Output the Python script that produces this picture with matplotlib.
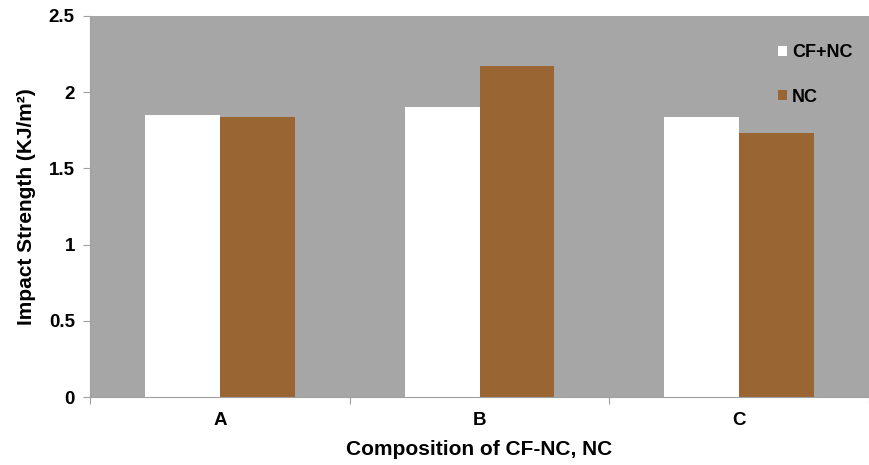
import numpy as np
import matplotlib.pyplot as plt
from matplotlib.patches import Patch

# Impact strength for each composition
compositions = ['A', 'B', 'C']
cf_nc = [1.85, 1.90, 1.84]
nc = [1.84, 2.17, 1.73]

plt.rcParams['font.family'] = ['Liberation Sans', 'DejaVu Sans']
plt.rcParams['font.weight'] = 'bold'

fig = plt.figure(figsize=(8.69, 4.65), dpi=100)
ax = fig.add_axes([0.1036, 0.1462, 0.8964, 0.8194])
ax.set_facecolor('#a6a6a6')

x = np.arange(len(compositions))
w = 0.2885
ax.bar(x - w / 2, cf_nc, w, color='white', label='CF+NC')
ax.bar(x + w / 2, nc, w, color='#996633', label='NC')

ax.set_xlim(-0.5, 2.5)
ax.set_ylim(0, 2.5)
ax.set_yticks([0, 0.5, 1, 1.5, 2, 2.5])
ax.set_yticklabels(['0', '0.5', '1', '1.5', '2', '2.5'], fontsize=13.5, fontweight='bold')

# categories labelled in the middle, ticks between groups
ax.set_xticks([-0.5, 0.5, 1.5, 2.5])
ax.set_xticklabels([])
ax.set_xticks(x, minor=True)
ax.set_xticklabels(compositions, minor=True, fontsize=13.5, fontweight='bold')
ax.tick_params(axis='x', which='minor', length=0, pad=11)
ax.tick_params(axis='x', which='major', length=5, color='#a0a0a0')
ax.tick_params(axis='y', length=5, color='#a0a0a0', pad=6)

for side in ['top', 'right']:
    ax.spines[side].set_visible(False)
for side in ['left', 'bottom']:
    ax.spines[side].set_color('#a0a0a0')

ax.set_xlabel('Composition of CF-NC, NC', fontsize=15, fontweight='bold', labelpad=8)
ax.set_ylabel('Impact Strength (KJ/m²)', fontsize=15, fontweight='bold', labelpad=9)

handles = [Patch(facecolor='white', label='CF+NC'), Patch(facecolor='#996633', label='NC')]
ax.legend(handles=handles, loc='upper left', bbox_to_anchor=(0.862, 0.968), frameon=False,
          handlelength=0.5, handleheight=0.5, handletextpad=0.3, labelspacing=1.5,
          prop={'size': 13, 'weight': 'bold'})

fig.savefig('out.png', dpi=100)
